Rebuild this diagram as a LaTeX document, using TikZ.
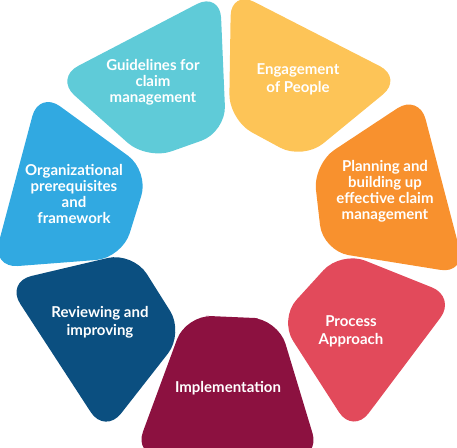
\documentclass[tikz,border=0pt]{standalone}
\usepackage{fontspec}
\setmainfont{Lato}
\usepackage{xcolor}
\definecolor{cycteal}{RGB}{95, 203, 216}
\definecolor{cycyellow}{RGB}{253, 196, 87}
\definecolor{cycorange}{RGB}{248, 145, 46}
\definecolor{cycred}{RGB}{226, 74, 91}
\definecolor{cycmaroon}{RGB}{140, 17, 64}
\definecolor{cycnavy}{RGB}{11, 79, 128}
\definecolor{cycblue}{RGB}{49, 169, 225}
\usetikzlibrary{calc}

\tikzset{
    petal/.style={rounded corners=26pt},
    petaltext/.style={text=white, align=center, font=\bfseries\fontsize{15}{16}\selectfont}
}
% rounded quadrilateral, started mid-edge so every corner is rounded
\newcommand{\petalshape}[5]{\fill[#1, petal] ($#2!0.5!#3$) -- #3 -- #4 -- #5 -- #2 -- cycle;}

\begin{document}
\begin{tikzpicture}[x=1pt, y=-1pt]
    \clip (0,0) rectangle (457,447);

    % Petals of the cycle
    \petalshape{cycteal}{(55,78)}{(220,-8)}{(226,132)}{(147,160)}
    \petalshape{cycyellow}{(231,-10)}{(403,78)}{(303,160)}{(229,120)}
    \petalshape{cycorange}{(419,94)}{(466,274)}{(323,251)}{(313,164)}
    \petalshape{cycred}{(341,251)}{(456,297)}{(353,434)}{(279,319)}
    \petalshape{cycmaroon}{(186,315)}{(278,319)}{(320,458)}{(134,456)}
    \petalshape{cycnavy}{(6,282)}{(133,252)}{(184,333)}{(105,434)}
    \petalshape{cycblue}{(39,91)}{(149,171)}{(122,258)}{(-8,268)}

    % Labels
    \node[petaltext] (guide) at (153,82) {Guidelines for\\claim\\management};
    \node[petaltext] (engage) at (298,79) {Engagement\\[2pt]of People};
    \node[petaltext] (plan) at (385,191) {Planning and\\building up\\effective claim\\management};
    \node[petaltext] (process) at (351,331) {Process\\[2pt]Approach};
    \node[petaltext] (implement) at (228,388) {Implementation};
    \node[petaltext] (review) at (100,322) {Reviewing and\\[2pt]improving};
    \node[petaltext] (organize) at (74,194) {Organizational\\prerequisites\\and\\framework};
\end{tikzpicture}
\end{document}
